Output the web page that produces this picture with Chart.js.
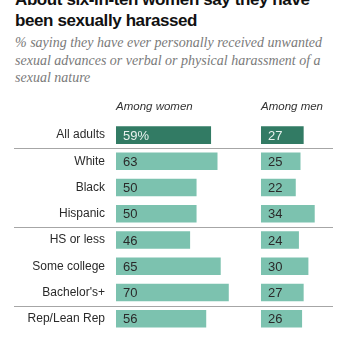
<!DOCTYPE html>
<html>
<head>
<meta charset="utf-8">
<script src="https://cdn.jsdelivr.net/npm/chart.js@4/dist/chart.umd.min.js"></script>
<style>
  html, body { margin: 0; padding: 0; background: #fff; }
  #wrap { position: relative; width: 350px; height: 350px; overflow: hidden; }
  #title { position: absolute; left: 15px; top: -11px; width: 335px; font: bold 17px "Liberation Sans", Arial, sans-serif; letter-spacing: -0.4px; line-height: 21px; color: #111; white-space: nowrap; }
  #sub { position: absolute; left: 15px; top: 34px; width: 335px; font: italic 14px "Liberation Serif", serif; line-height: 17.5px; color: #7a7a7a; white-space: nowrap; }
  #cv { position: absolute; left: 0; top: 0; }
</style>
</head>
<body>
<div id="wrap">
  <div id="title">About six-in-ten women say they have<br>been sexually harassed</div>
  <div id="sub">% saying they have ever personally received unwanted<br>sexual advances or verbal or physical harassment of a<br>sexual nature</div>
  <canvas id="cv" width="350" height="350"></canvas>
</div>
<script>
const categories = ["All adults", "White", "Black", "Hispanic", "HS or less", "Some college", "Bachelor's+", "Rep/Lean Rep"];
const women = [59, 63, 50, 50, 46, 65, 70, 56];
const men = [27, 25, 22, 34, 24, 30, 27, 26];
const headers = ["Among women", "Among men"];
const separatorsAfter = [0, 3, 6];

const DARK = "#327b64";
const LIGHT = "#7cc2af";
const colorsFor = arr => arr.map((v, i) => i === 0 ? DARK : LIGHT);

const labelPlugin = {
  id: "labels",
  afterDatasetsDraw(chart) {
    const ctx = chart.ctx;
    ctx.save();
    // separators
    const y = chart.scales.y;
    ctx.strokeStyle = "#a6a6a6";
    ctx.lineWidth = 1;
    separatorsAfter.forEach(i => {
      const py = Math.round((y.getPixelForValue(i) + y.getPixelForValue(i + 1)) / 2) + 0.5;
      ctx.beginPath();
      ctx.moveTo(14, py);
      ctx.lineTo(333, py);
      ctx.stroke();
    });
    // value labels
    ctx.font = "13px 'Liberation Sans', Arial, sans-serif";
    ctx.textBaseline = "middle";
    ctx.textAlign = "left";
    chart.data.datasets.forEach((ds, di) => {
      const meta = chart.getDatasetMeta(di);
      meta.data.forEach((bar, i) => {
        const v = ds.data[i];
        const txt = (di === 0 && i === 0) ? v + "%" : String(v);
        ctx.fillStyle = i === 0 ? "#e8f2ee" : "#2a2a2a";
        ctx.fillText(txt, bar.base + 7, bar.y + 1);
      });
    });
    // headers
    ctx.font = "italic 11.5px 'Liberation Sans', Arial, sans-serif";
    ctx.fillStyle = "#333";
    ctx.fillText(headers[0], chart.scales.x.left, 107);
    ctx.fillText(headers[1], chart.scales.x2.left, 107);
    ctx.restore();
  }
};

new Chart(document.getElementById("cv"), {
  type: "bar",
  data: {
    labels: categories,
    datasets: [
      { label: headers[0], data: women, xAxisID: "x", yAxisID: "y", backgroundColor: colorsFor(women), grouped: false, barPercentage: 0.67, categoryPercentage: 1 },
      { label: headers[1], data: men, xAxisID: "x2", yAxisID: "y", backgroundColor: colorsFor(men), grouped: false, barPercentage: 0.67, categoryPercentage: 1 }
    ]
  },
  options: {
    indexAxis: "y",
    responsive: false,
    animation: false,
    layout: { padding: { top: 122, left: 0, right: 10, bottom: 0 } },
    plugins: { legend: { display: false }, tooltip: { enabled: false }, title: { display: false } },
    scales: {
      y: {
        type: "category",
        grid: { display: false, drawTicks: false },
        border: { display: false },
        ticks: { padding: 11, color: "#2a2a2a", font: { family: "'Liberation Sans', Arial, sans-serif", size: 12 } },
        afterFit(scale) { scale.width = 116; }
      },
      x: { type: "linear", position: "bottom", stack: "g", stackWeight: 145, min: 0, max: 90, display: false },
      x2: { type: "linear", axis: "x", position: "bottom", stack: "g", stackWeight: 79, min: 0, max: 50, display: false }
    }
  },
  plugins: [labelPlugin]
});
</script>
</body>
</html>
